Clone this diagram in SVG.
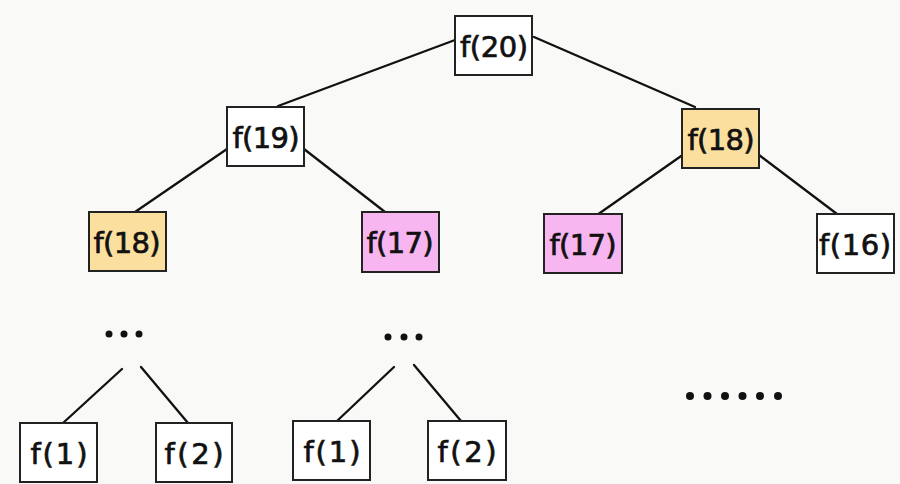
<svg xmlns="http://www.w3.org/2000/svg" width="900" height="484" viewBox="0 0 900 484">
<style>
.box{stroke:#222;stroke-width:2}
.w{fill:#ffffff}
.y{fill:#fbdf9f}
.p{fill:#f8b6f1}
.t{font-family:"DejaVu Sans","Liberation Sans",sans-serif;font-size:29px;fill:#111;stroke:#111;stroke-width:0.7;text-anchor:middle;dominant-baseline:central}
.e{stroke:#111;stroke-width:2.3;fill:none;stroke-linecap:round}
.d{fill:#111}
</style>
<rect width="900" height="484" fill="#f9f9f8"/>
<g id="connectors">
<line class="e" x1="455" y1="40" x2="278" y2="106"/>
<line class="e" x1="534" y1="37" x2="695" y2="107"/>
<line class="e" x1="227" y1="149" x2="135" y2="212"/>
<line class="e" x1="304" y1="149" x2="385" y2="212"/>
<line class="e" x1="684" y1="154" x2="597" y2="215"/>
<line class="e" x1="759" y1="155" x2="837" y2="214"/>
<line class="e" x1="122" y1="369" x2="63" y2="423"/>
<line class="e" x1="141" y1="367" x2="188" y2="423"/>
<line class="e" x1="394" y1="367" x2="337" y2="421"/>
<line class="e" x1="414" y1="365" x2="461" y2="421"/>
</g>
<g id="n20"><rect class="box w" x="455" y="16" width="77" height="59"/><text class="t" x="494" y="47" textLength="68" lengthAdjust="spacing">f(20)</text></g>
<g id="n19"><rect class="box w" x="227" y="107" width="77" height="59"/><text class="t" x="266" y="138" textLength="67" lengthAdjust="spacing">f(19)</text></g>
<g id="n18r"><rect class="box y" x="682" y="109" width="77" height="59"/><text class="t" x="721" y="140" textLength="67" lengthAdjust="spacing">f(18)</text></g>
<g id="n18l"><rect class="box y" x="89" y="212" width="77" height="59"/><text class="t" x="127" y="243" textLength="67" lengthAdjust="spacing">f(18)</text></g>
<g id="n17m"><rect class="box p" x="362" y="212" width="77" height="60"/><text class="t" x="400" y="243" textLength="67" lengthAdjust="spacing">f(17)</text></g>
<g id="n17r"><rect class="box p" x="544" y="214" width="78" height="59"/><text class="t" x="583" y="245" textLength="67" lengthAdjust="spacing">f(17)</text></g>
<g id="n16"><rect class="box w" x="817" y="214" width="77" height="59"/><text class="t" x="855" y="245" textLength="72" lengthAdjust="spacing">f(16)</text></g>
<g id="dots1"><circle class="d" cx="109" cy="334" r="3.5"/><circle class="d" cx="124" cy="334" r="3.5"/><circle class="d" cx="139" cy="334" r="3.5"/></g>
<g id="dots2"><circle class="d" cx="388" cy="337" r="3.5"/><circle class="d" cx="404" cy="337" r="3.5"/><circle class="d" cx="419" cy="337" r="3.5"/></g>
<g id="dots3"><circle class="d" cx="690" cy="396" r="4"/><circle class="d" cx="707.5" cy="396" r="4"/><circle class="d" cx="725" cy="396" r="4"/><circle class="d" cx="742.5" cy="396" r="4"/><circle class="d" cx="760" cy="396" r="4"/><circle class="d" cx="778" cy="396" r="4"/></g>
<g id="n1a"><rect class="box w" x="20" y="423" width="77" height="59"/><text class="t" x="59" y="454" textLength="57" lengthAdjust="spacing">f(1)</text></g>
<g id="n2a"><rect class="box w" x="156" y="423" width="76" height="59"/><text class="t" x="194" y="454" textLength="59" lengthAdjust="spacing">f(2)</text></g>
<g id="n1b"><rect class="box w" x="293" y="421" width="77" height="59"/><text class="t" x="332" y="452" textLength="57" lengthAdjust="spacing">f(1)</text></g>
<g id="n2b"><rect class="box w" x="428" y="421" width="78" height="59"/><text class="t" x="467" y="452" textLength="59" lengthAdjust="spacing">f(2)</text></g>
</svg>
